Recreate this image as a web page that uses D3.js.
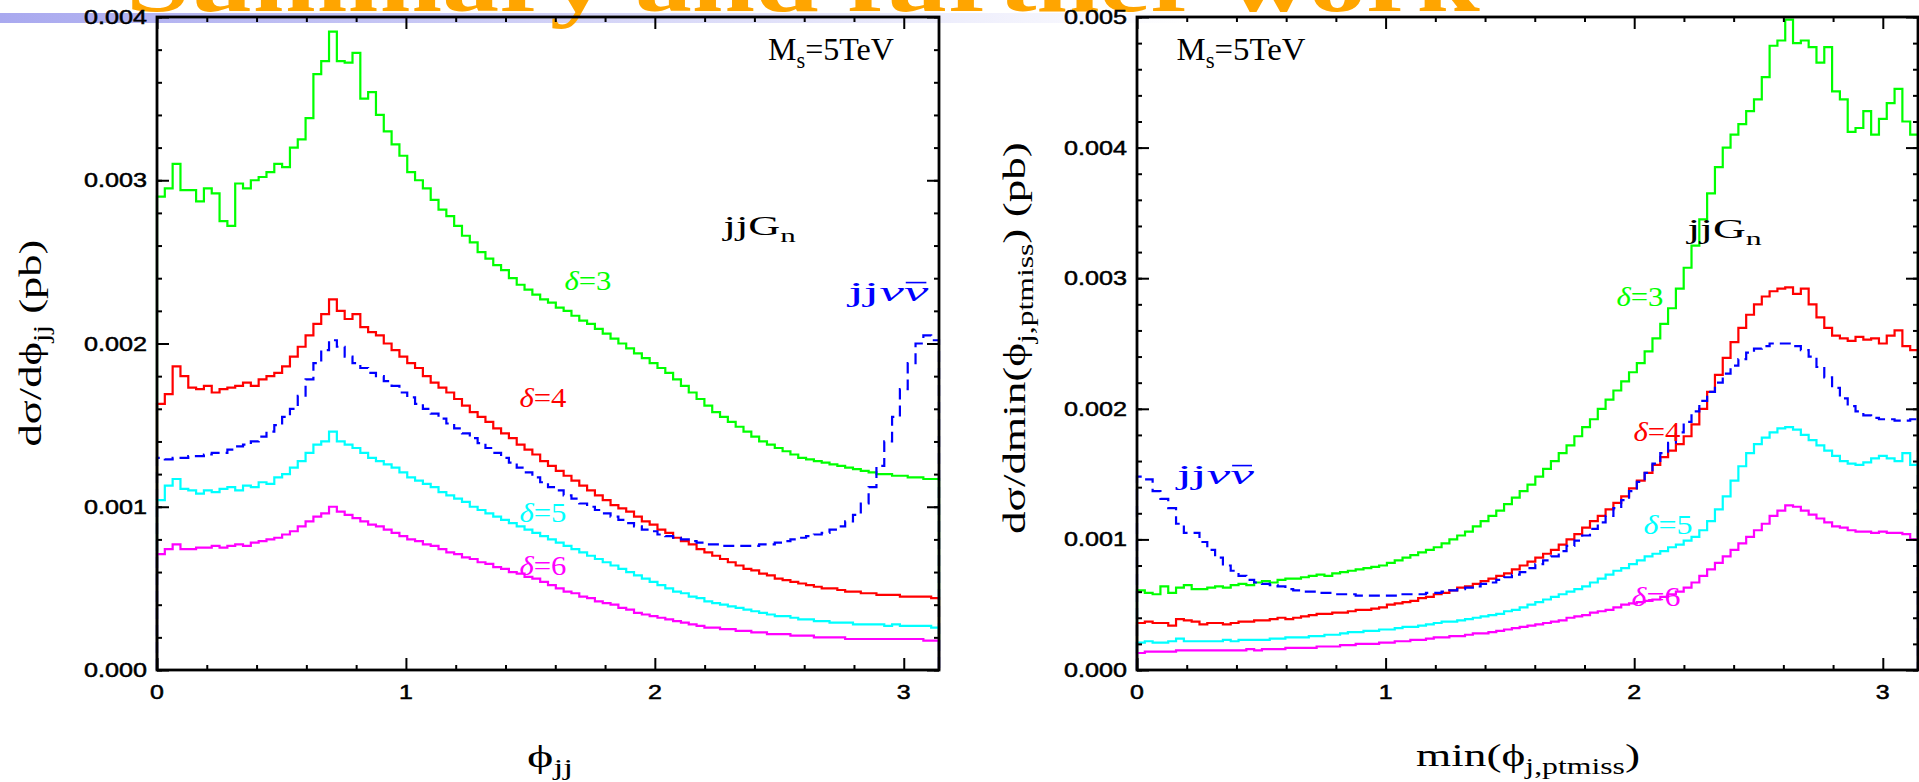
<!DOCTYPE html>
<html lang="en">
<head>
<meta charset="utf-8">
<title>jjGn angular distributions</title>
<script src="https://cdn.jsdelivr.net/npm/d3@7"></script>
<style>
  html, body { margin: 0; padding: 0; background: #fff; overflow: hidden; }
  svg { display: block; }
</style>
</head>
<body>
<div id="chart"></div>
<script>
"use strict";

// 100 equal bins on [0, pi]; values are in units of 1e-3 pb
const nBins = 100
const phiMax = Math.PI

// ---- left panel : dsigma/dphi_jj ----
const jj_d3 = [
  2.90, 2.95, 3.10, 2.94, 2.94, 2.87, 2.95, 2.92, 2.75, 2.72,
  2.98, 2.95, 3.00, 3.02, 3.05, 3.10, 3.08, 3.20, 3.25, 3.38,
  3.65, 3.73, 3.91, 3.73, 3.72, 3.78, 3.50, 3.54, 3.40, 3.30,
  3.22, 3.15, 3.05, 3.00, 2.95, 2.88, 2.82, 2.78, 2.72, 2.66,
  2.62, 2.56, 2.52, 2.48, 2.45, 2.40, 2.36, 2.33, 2.30, 2.27,
  2.25, 2.22, 2.20, 2.17, 2.14, 2.12, 2.09, 2.06, 2.03, 2.00,
  1.97, 1.94, 1.91, 1.88, 1.85, 1.82, 1.78, 1.74, 1.70, 1.66,
  1.62, 1.58, 1.55, 1.52, 1.49, 1.46, 1.43, 1.40, 1.38, 1.36,
  1.34, 1.32, 1.30, 1.29, 1.28, 1.27, 1.26, 1.25, 1.24, 1.23,
  1.22, 1.21, 1.20, 1.20, 1.19, 1.19, 1.18, 1.18, 1.17, 1.17]
const jj_d4 = [
  1.63, 1.69, 1.86, 1.80, 1.73, 1.72, 1.74, 1.70, 1.72, 1.73,
  1.74, 1.76, 1.74, 1.78, 1.80, 1.82, 1.86, 1.92, 1.98, 2.05,
  2.12, 2.18, 2.27, 2.20, 2.15, 2.18, 2.10, 2.07, 2.05, 2.00,
  1.96, 1.92, 1.88, 1.85, 1.80, 1.76, 1.73, 1.70, 1.66, 1.62,
  1.58, 1.55, 1.52, 1.48, 1.45, 1.42, 1.38, 1.35, 1.32, 1.28,
  1.25, 1.22, 1.19, 1.16, 1.13, 1.10, 1.07, 1.04, 1.01, 0.99,
  0.97, 0.94, 0.91, 0.89, 0.86, 0.84, 0.81, 0.79, 0.77, 0.74,
  0.72, 0.70, 0.68, 0.66, 0.64, 0.62, 0.61, 0.59, 0.58, 0.56,
  0.55, 0.54, 0.53, 0.52, 0.51, 0.50, 0.50, 0.49, 0.48, 0.48,
  0.47, 0.47, 0.46, 0.46, 0.46, 0.45, 0.45, 0.45, 0.45, 0.44]
const jj_d5 = [
  1.04, 1.13, 1.17, 1.11, 1.10, 1.08, 1.10, 1.09, 1.11, 1.12,
  1.10, 1.13, 1.12, 1.15, 1.14, 1.18, 1.20, 1.24, 1.28, 1.33,
  1.38, 1.40, 1.46, 1.40, 1.38, 1.36, 1.33, 1.30, 1.28, 1.26,
  1.24, 1.21, 1.18, 1.16, 1.14, 1.12, 1.09, 1.07, 1.05, 1.03,
  1.00, 0.98, 0.96, 0.94, 0.92, 0.90, 0.88, 0.86, 0.84, 0.82,
  0.80, 0.78, 0.76, 0.74, 0.72, 0.70, 0.68, 0.66, 0.64, 0.62,
  0.60, 0.58, 0.56, 0.54, 0.52, 0.50, 0.48, 0.47, 0.45, 0.44,
  0.42, 0.41, 0.40, 0.39, 0.38, 0.37, 0.36, 0.35, 0.34, 0.33,
  0.33, 0.32, 0.31, 0.31, 0.30, 0.30, 0.29, 0.29, 0.29, 0.28,
  0.28, 0.28, 0.28, 0.27, 0.28, 0.27, 0.27, 0.27, 0.27, 0.26]
const jj_d6 = [
  0.71, 0.74, 0.77, 0.74, 0.74, 0.75, 0.75, 0.76, 0.75, 0.76,
  0.77, 0.76, 0.78, 0.79, 0.80, 0.81, 0.83, 0.85, 0.88, 0.91,
  0.94, 0.96, 1.00, 0.97, 0.95, 0.93, 0.91, 0.89, 0.88, 0.86,
  0.84, 0.82, 0.80, 0.79, 0.77, 0.76, 0.74, 0.72, 0.71, 0.69,
  0.68, 0.66, 0.65, 0.63, 0.62, 0.60, 0.59, 0.57, 0.56, 0.54,
  0.52, 0.50, 0.48, 0.47, 0.45, 0.44, 0.42, 0.41, 0.40, 0.38,
  0.37, 0.35, 0.34, 0.33, 0.32, 0.31, 0.30, 0.29, 0.28, 0.27,
  0.26, 0.26, 0.25, 0.25, 0.24, 0.24, 0.23, 0.23, 0.22, 0.22,
  0.22, 0.21, 0.21, 0.21, 0.20, 0.20, 0.20, 0.20, 0.19, 0.19,
  0.19, 0.19, 0.19, 0.19, 0.19, 0.19, 0.19, 0.19, 0.18, 0.18]
const jj_nunu = [
  1.30, 1.29, 1.30, 1.30, 1.31, 1.31, 1.32, 1.33, 1.33, 1.35,
  1.37, 1.38, 1.40, 1.43, 1.46, 1.50, 1.55, 1.60, 1.68, 1.78,
  1.88, 1.96, 2.02, 1.98, 1.92, 1.88, 1.85, 1.82, 1.80, 1.77,
  1.74, 1.70, 1.67, 1.63, 1.60, 1.57, 1.54, 1.51, 1.48, 1.45,
  1.42, 1.39, 1.36, 1.33, 1.30, 1.27, 1.24, 1.21, 1.18, 1.15,
  1.12, 1.10, 1.07, 1.05, 1.02, 1.00, 0.98, 0.96, 0.94, 0.92,
  0.90, 0.88, 0.86, 0.85, 0.83, 0.82, 0.81, 0.80, 0.79, 0.78,
  0.77, 0.77, 0.76, 0.76, 0.76, 0.76, 0.76, 0.77, 0.77, 0.78,
  0.79, 0.80, 0.81, 0.82, 0.83, 0.84, 0.86, 0.88, 0.91, 0.95,
  1.02, 1.12, 1.25, 1.40, 1.55, 1.72, 1.88, 2.00, 2.05, 2.02]

// ---- right panel : dsigma/dmin(phi_j,ptmiss) ----
const pt_d3 = [
  0.61, 0.59, 0.58, 0.64, 0.59, 0.63, 0.65, 0.62, 0.62, 0.63,
  0.64, 0.63, 0.65, 0.66, 0.65, 0.67, 0.68, 0.67, 0.69, 0.70,
  0.70, 0.71, 0.72, 0.73, 0.72, 0.74, 0.75, 0.76, 0.77, 0.78,
  0.79, 0.80, 0.82, 0.84, 0.86, 0.88, 0.90, 0.92, 0.94, 0.97,
  1.00, 1.03, 1.06, 1.10, 1.14, 1.18, 1.22, 1.27, 1.32, 1.37,
  1.42, 1.48, 1.54, 1.60, 1.66, 1.72, 1.79, 1.86, 1.92, 2.00,
  2.07, 2.14, 2.21, 2.28, 2.35, 2.44, 2.54, 2.65, 2.77, 2.92,
  3.08, 3.25, 3.45, 3.65, 3.85, 4.00, 4.10, 4.18, 4.28, 4.37,
  4.54, 4.78, 4.82, 4.98, 4.80, 4.82, 4.77, 4.65, 4.77, 4.43,
  4.37, 4.12, 4.15, 4.28, 4.10, 4.22, 4.34, 4.45, 4.20, 4.10]
const pt_d4 = [
  0.36, 0.37, 0.36, 0.36, 0.34, 0.39, 0.38, 0.37, 0.35, 0.36,
  0.36, 0.35, 0.36, 0.37, 0.37, 0.38, 0.38, 0.39, 0.40, 0.39,
  0.40, 0.41, 0.42, 0.43, 0.43, 0.44, 0.44, 0.45, 0.46, 0.46,
  0.47, 0.48, 0.50, 0.51, 0.52, 0.53, 0.55, 0.56, 0.58, 0.59,
  0.61, 0.63, 0.64, 0.66, 0.68, 0.70, 0.72, 0.74, 0.77, 0.80,
  0.83, 0.86, 0.89, 0.92, 0.96, 1.00, 1.04, 1.09, 1.14, 1.18,
  1.23, 1.28, 1.33, 1.39, 1.45, 1.51, 1.57, 1.63, 1.68, 1.73,
  1.79, 1.88, 2.00, 2.13, 2.26, 2.39, 2.51, 2.62, 2.72, 2.80,
  2.86, 2.90, 2.92, 2.93, 2.88, 2.92, 2.80, 2.70, 2.62, 2.56,
  2.54, 2.52, 2.55, 2.53, 2.54, 2.50, 2.56, 2.60, 2.48, 2.45]
const pt_d5 = [
  0.21, 0.22, 0.21, 0.21, 0.22, 0.24, 0.22, 0.22, 0.22, 0.22,
  0.22, 0.23, 0.22, 0.23, 0.23, 0.23, 0.23, 0.24, 0.24, 0.25,
  0.25, 0.25, 0.26, 0.26, 0.27, 0.27, 0.28, 0.29, 0.29, 0.30,
  0.30, 0.31, 0.31, 0.32, 0.33, 0.33, 0.34, 0.35, 0.36, 0.37,
  0.37, 0.38, 0.39, 0.40, 0.41, 0.42, 0.43, 0.45, 0.46, 0.48,
  0.50, 0.52, 0.54, 0.56, 0.58, 0.60, 0.62, 0.64, 0.67, 0.70,
  0.73, 0.76, 0.78, 0.81, 0.84, 0.87, 0.89, 0.91, 0.94, 0.96,
  0.99, 1.02, 1.07, 1.14, 1.23, 1.33, 1.45, 1.56, 1.66, 1.73,
  1.78, 1.82, 1.85, 1.86, 1.84, 1.80, 1.76, 1.72, 1.68, 1.64,
  1.60, 1.58, 1.57, 1.59, 1.62, 1.64, 1.62, 1.60, 1.66, 1.57]
const pt_d6 = [
  0.13, 0.14, 0.14, 0.14, 0.14, 0.15, 0.15, 0.15, 0.15, 0.15,
  0.15, 0.15, 0.15, 0.15, 0.16, 0.15, 0.16, 0.16, 0.16, 0.17,
  0.17, 0.17, 0.17, 0.18, 0.18, 0.18, 0.19, 0.19, 0.20, 0.20,
  0.20, 0.21, 0.21, 0.22, 0.22, 0.23, 0.23, 0.24, 0.25, 0.25,
  0.26, 0.26, 0.27, 0.28, 0.28, 0.29, 0.30, 0.31, 0.32, 0.33,
  0.34, 0.35, 0.36, 0.37, 0.38, 0.40, 0.41, 0.42, 0.44, 0.45,
  0.46, 0.48, 0.50, 0.51, 0.52, 0.53, 0.54, 0.56, 0.58, 0.60,
  0.63, 0.67, 0.72, 0.77, 0.82, 0.87, 0.92, 0.97, 1.02, 1.07,
  1.12, 1.18, 1.22, 1.26, 1.25, 1.22, 1.19, 1.16, 1.13, 1.10,
  1.09, 1.07, 1.06, 1.06, 1.05, 1.06, 1.05, 1.05, 1.04, 1.00]
const pt_nunu = [
  1.48, 1.46, 1.37, 1.31, 1.24, 1.12, 1.05, 1.05, 0.98, 0.92,
  0.86, 0.80, 0.76, 0.72, 0.69, 0.67, 0.66, 0.65, 0.64, 0.62,
  0.61, 0.60, 0.60, 0.59, 0.59, 0.58, 0.58, 0.58, 0.57, 0.57,
  0.57, 0.57, 0.57, 0.57, 0.58, 0.58, 0.58, 0.59, 0.59, 0.60,
  0.61, 0.62, 0.63, 0.64, 0.66, 0.67, 0.69, 0.71, 0.73, 0.75,
  0.78, 0.81, 0.84, 0.87, 0.91, 0.95, 0.99, 1.03, 1.08, 1.13,
  1.18, 1.24, 1.30, 1.37, 1.44, 1.51, 1.58, 1.66, 1.74, 1.82,
  1.90, 1.98, 2.06, 2.13, 2.20, 2.27, 2.33, 2.38, 2.43, 2.46,
  2.48, 2.50, 2.50, 2.50, 2.48, 2.45, 2.40, 2.32, 2.24, 2.16,
  2.08, 2.02, 1.98, 1.95, 1.93, 1.92, 1.92, 1.91, 1.91, 1.92]

// ticks
const xTicks = [0, 1, 2, 3]
const yTicksLeft = [0, 0.001, 0.002, 0.003, 0.004]
const yTicksRight = [0, 0.001, 0.002, 0.003, 0.004, 0.005]

const W = 1919, H = 782
const plotTop = 17, plotBottom = 670
const serif = "'Liberation Serif', 'DejaVu Serif', serif"
const sans = "'Liberation Sans', Arial, sans-serif"
const C = {green: "#00ff00", red: "#ff0000", cyan: "#00ffff", magenta: "#ff00ff", blue: "#0000ff"}

const svg = d3.select("#chart").append("svg")
    .attr("width", W).attr("height", H)

// slide decoration: gradient bar and the title, cut off by the top edge
const grad = svg.append("defs").append("linearGradient").attr("id", "bar")
grad.append("stop").attr("offset", "0%").attr("stop-color", "#a9a9ef")
grad.append("stop").attr("offset", "62%").attr("stop-color", "#ffffff")
svg.append("rect").attr("x", 0).attr("y", 13).attr("width", W).attr("height", 10)
    .attr("fill", "url(#bar)")

const title = svg.append("text").text("Summary and further work")
    .attr("font-family", serif).attr("font-size", 82).attr("font-weight", "bold")
    .attr("fill", "#ffa500").attr("text-anchor", "middle")
const tw = title.node().getBBox().width
title.attr("transform", `translate(803,11) scale(${1354 / tw},1)`)

// text helper: parts -> tspans, then scaled to a target width and centred on (cx,cy)
function label(parent, parts, o) {
  const g = parent.append("g")
  const t = g.append("text")
      .attr("font-family", o.family).attr("font-size", o.size)
      .attr("fill", o.color || "#000")
  let shift = 0
  parts.forEach(p => {
    const sz = p.sub ? o.size * 0.7 : o.size
    const target = p.sub ? o.size * 0.28 : 0
    const ts = t.append("tspan").text(p.t).attr("font-size", sz).attr("dy", target - shift)
    if (p.italic) ts.attr("font-style", "italic")
    shift = target
  })
  const b = t.node().getBBox()
  const k = o.width ? o.width / b.width : 1
  g.attr("transform", `translate(${o.cx},${o.cy}) rotate(${o.rotate || 0}) scale(${k},1) translate(${-b.x - b.width / 2},${-b.y - b.height / 2})`)
  if (o.overline != null) {
    const e = t.node().getExtentOfChar(o.overline)
    g.append("line")
        .attr("x1", e.x + 1).attr("x2", e.x + e.width - 1)
        .attr("y1", -o.size * 0.64).attr("y2", -o.size * 0.64)
        .attr("stroke", o.color).attr("stroke-width", 1.6)
  }
  return g
}

function histPath(values, x, y) {
  const pts = [[0, 0]]
  values.forEach((v, i) => pts.push([i * phiMax / nBins, v / 1000]))
  pts.push([phiMax, values[nBins - 1] / 1000], [phiMax, 0])
  return d3.line().x(d => x(d[0])).y(d => y(d[1])).curve(d3.curveStepAfter)(pts)
}

function drawPanel(p) {
  const g = svg.append("g")
  const x = d3.scaleLinear().domain([0, phiMax]).range([p.left, p.right])
  const y = d3.scaleLinear().domain([0, p.yMax]).range([plotBottom, plotTop])

  p.series.forEach(s => {
    g.append("path")
        .attr("d", histPath(s.values, x, y))
        .attr("fill", "none")
        .attr("stroke", s.color)
        .attr("stroke-width", 2.2)
        .attr("stroke-dasharray", s.dashed ? "11,6" : null)
  })

  // ticks on all four sides, pointing inward
  const minorX = d3.range(0.2, 3.01, 0.2).filter(v => Math.abs(v - Math.round(v)) > 1e-6)
  const minorY = d3.range(0, p.yMax + 1e-9, 0.0002)
  const axes = [
    [d3.axisBottom(x).tickValues(xTicks), `translate(0,${plotBottom})`],
    [d3.axisBottom(x).tickValues(minorX), `translate(0,${plotBottom})`, true],
    [d3.axisTop(x).tickValues(xTicks), `translate(0,${plotTop})`],
    [d3.axisTop(x).tickValues(minorX), `translate(0,${plotTop})`, true],
    [d3.axisLeft(y).tickValues(p.yTicks), `translate(${p.left},0)`],
    [d3.axisLeft(y).tickValues(minorY), `translate(${p.left},0)`, true],
    [d3.axisRight(y).tickValues(p.yTicks), `translate(${p.right},0)`],
    [d3.axisRight(y).tickValues(minorY), `translate(${p.right},0)`, true]
  ]
  axes.forEach(([ax, tr, minor]) => {
    const a = g.append("g").attr("transform", tr)
        .call(ax.tickSize(minor ? -5 : -12).tickFormat(""))
    a.select(".domain").remove()
    a.selectAll("line").attr("stroke", "#000").attr("stroke-width", 2)
  })

  g.append("rect")
      .attr("x", p.left).attr("y", plotTop)
      .attr("width", p.right - p.left).attr("height", plotBottom - plotTop)
      .attr("fill", "none").attr("stroke", "#000").attr("stroke-width", 2.8)

  // tick labels
  xTicks.forEach(v => {
    g.append("text").text(v)
        .attr("transform", `translate(${x(v)},${plotBottom + 29}) scale(1.25,1)`)
        .attr("text-anchor", "middle")
        .attr("font-family", sans).attr("font-size", 20)
        .attr("stroke", "#000").attr("stroke-width", 0.5)
  })
  p.yTicks.forEach(v => {
    g.append("text").text(d3.format(".3f")(v))
        .attr("transform", `translate(${p.left - 10},${y(v) + 7}) scale(1.26,1)`)
        .attr("text-anchor", "end")
        .attr("font-family", sans).attr("font-size", 20)
        .attr("stroke", "#000").attr("stroke-width", 0.5)
  })

  // axis titles
  label(g, p.xTitle, {cx: p.xTitlePos[0], cy: p.xTitlePos[1], width: p.xTitleW, size: 32, family: serif})
  label(g, p.yTitle, {cx: p.yTitlePos[0], cy: p.yTitlePos[1], width: p.yTitleW, size: 32, family: serif, rotate: -90})

  // annotations
  p.notes.forEach(n => label(g, n.parts, {cx: n.at[0], cy: n.at[1], width: n.w, size: n.size || 28, family: serif, color: n.color || "#000", overline: n.overline}))
}

const delta = d => [{t: "δ", italic: true}, {t: "=" + d}]
const nunu = [{t: "jj"}, {t: "νν", italic: true}]

drawPanel({
  left: 157, right: 939, yMax: 0.004, yTicks: yTicksLeft,
  series: [
    {values: jj_d3, color: C.green},
    {values: jj_d4, color: C.red},
    {values: jj_d5, color: C.cyan},
    {values: jj_d6, color: C.magenta},
    {values: jj_nunu, color: C.blue, dashed: true}
  ],
  xTitle: [{t: "ϕ"}, {t: "jj", sub: true}], xTitlePos: [550, 759], xTitleW: 46,
  yTitle: [{t: "dσ/dϕ"}, {t: "jj", sub: true}, {t: " (pb)"}], yTitlePos: [33, 343], yTitleW: 207,
  notes: [
    {parts: [{t: "M"}, {t: "s", sub: true}, {t: "=5TeV"}], at: [831, 52], w: 126, size: 32},
    {parts: [{t: "jjG"}, {t: "n", sub: true}], at: [759, 228], w: 74},
    {parts: delta(3), at: [588, 280], w: 47, color: C.green},
    {parts: delta(4), at: [543, 397], w: 47, color: C.red},
    {parts: delta(5), at: [543, 512], w: 47, color: C.cyan},
    {parts: delta(6), at: [543, 565], w: 47, color: C.magenta},
    {parts: nunu, at: [888, 291], w: 83, color: C.blue, overline: 3}
  ]
})

drawPanel({
  left: 1137, right: 1918, yMax: 0.005, yTicks: yTicksRight,
  series: [
    {values: pt_d3, color: C.green},
    {values: pt_d4, color: C.red},
    {values: pt_d5, color: C.cyan},
    {values: pt_d6, color: C.magenta},
    {values: pt_nunu, color: C.blue, dashed: true}
  ],
  xTitle: [{t: "min("}, {t: "ϕ"}, {t: "j,ptmiss", sub: true}, {t: ")"}], xTitlePos: [1528, 758], xTitleW: 224,
  yTitle: [{t: "dσ/dmin("}, {t: "ϕ"}, {t: "j,ptmiss", sub: true}, {t: ")  (pb)"}], yTitlePos: [1017, 338], yTitleW: 392,
  notes: [
    {parts: [{t: "M"}, {t: "s", sub: true}, {t: "=5TeV"}], at: [1241, 52], w: 129, size: 32},
    {parts: [{t: "jjG"}, {t: "n", sub: true}], at: [1724, 231], w: 76},
    {parts: delta(3), at: [1640, 296], w: 47, color: C.green},
    {parts: delta(4), at: [1657, 431], w: 47, color: C.red},
    {parts: delta(5), at: [1668, 524], w: 49, color: C.cyan},
    {parts: delta(6), at: [1656, 596], w: 49, color: C.magenta},
    {parts: nunu, at: [1215, 474], w: 80, color: C.blue, overline: 3}
  ]
})
</script>
</body>
</html>
